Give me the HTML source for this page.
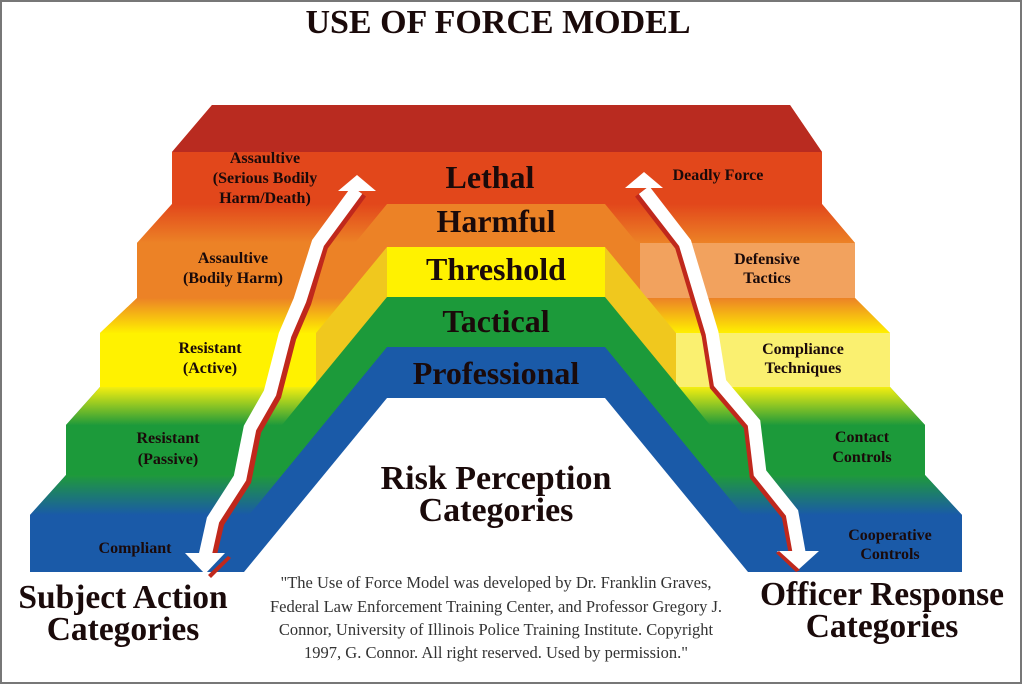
<!DOCTYPE html>
<html><head><meta charset="utf-8"><style>
html,body{margin:0;padding:0;background:#fff}
svg{display:block}
text{font-family:"Liberation Serif",serif;font-weight:bold;text-anchor:middle;fill:#1a0a0a}
.q{font-weight:normal;fill:#333;font-size:16.5px}
</style></head><body>
<svg width="1024" height="685" viewBox="0 0 1024 685" xmlns="http://www.w3.org/2000/svg">
<defs>
<linearGradient id="gRO" x1="0" y1="0" x2="0" y2="1"><stop offset="0" stop-color="#e2471b"/><stop offset="1" stop-color="#ec8226"/></linearGradient>
<linearGradient id="gOY" x1="0" y1="0" x2="0" y2="1"><stop offset="0" stop-color="#ec8226"/><stop offset="1" stop-color="#fff000"/></linearGradient>
<linearGradient id="gYG" x1="0" y1="0" x2="0" y2="1"><stop offset="0" stop-color="#f4ee10"/><stop offset="1" stop-color="#1f9a3a"/></linearGradient>
<linearGradient id="gGB" x1="0" y1="0" x2="0" y2="1"><stop offset="0" stop-color="#1f9a3a"/><stop offset="1" stop-color="#1a5aa8"/></linearGradient>
</defs>
<rect width="1024" height="685" fill="#fff"/>
<polygon points="212,105 790,105 822,152 822,572 172,572 172,152" fill="#e2471b"/>
<polygon points="212,105 790,105 822,152 172,152" fill="#b92b20"/>
<polygon points="137,572 137,243 172,204 822,204 855,243 855,572" fill="#ec8226"/>
<polygon points="137,243 172,204 387,204 355,243" fill="url(#gRO)"/>
<polygon points="605,204 822,204 855,243 637,243" fill="url(#gRO)"/>
<polygon points="640,243 855,243 855,298 640,298" fill="#f2a25e"/>
<polygon points="100,572 100,333 137,298 345,298 387,247 605,247 647,298 855,298 890,333 890,572" fill="#f0c81e"/>
<polygon points="100,333 137,298 345,298 316,333" fill="url(#gOY)"/>
<polygon points="647,298 855,298 890,333 676,333" fill="url(#gOY)"/>
<rect x="100" y="333" width="216" height="54" fill="#fff200"/>
<rect x="676" y="333" width="214" height="54" fill="#faf070"/>
<rect x="387" y="247" width="218" height="50" fill="#fff200"/>
<polygon points="66,572 66,425 100,387 313,387 387,297 605,297 679,387 890,387 925,425 925,572" fill="#1c9a3a"/>
<polygon points="66,425 100,387 313,387 282,425" fill="url(#gYG)"/>
<polygon points="679,387 890,387 925,425 710,425" fill="url(#gYG)"/>
<polygon points="30,572 30,515 66,475 282,475 387,347 605,347 710,475 925,475 962,515 962,572" fill="#1a5aa8"/>
<polygon points="30,515 66,475 282,475 249,515" fill="url(#gGB)"/>
<polygon points="710,475 925,475 962,515 743,515" fill="url(#gGB)"/>
<polygon points="387,398 605,398 748,572 244,572" fill="#fff"/>
<g fill="none" stroke-linejoin="miter" stroke-linecap="butt">
<polyline points="360,192 321,245 304,302 289,337 274,395 254,430 244,480 217,522 209,556" stroke="#c0281c" stroke-width="15"/>
<polyline points="357,190 318,243 300,300 285,335 270,393 250,428 240,478 213,520 205,556" stroke="#fff" stroke-width="13"/>
<polyline points="641,192 682,245 709,335 717,385 751,425 757,475 789,515 796,552" stroke="#c0281c" stroke-width="15"/>
<polyline points="644,190 685,243 712,333 720,383 754,423 760,473 792,513 799,552" stroke="#fff" stroke-width="13"/>
</g>
<polygon points="357,175 376,191 338,191" fill="#fff"/>
<polygon points="644,172 663,188 625,188" fill="#fff"/>
<polygon points="185,553 225,553 205,574" fill="#fff"/>
<polygon points="208,575 228,556 231,558 211,578" fill="#c0281c"/>
<polygon points="777,551 819,551 798,570" fill="#fff"/>
<polygon points="776,553 779,551 800,570 796,572" fill="#c0281c"/>
<text x="498" y="33" style="font-size:34px">USE OF FORCE MODEL</text>
<g style="font-size:32px">
<text x="490" y="188">Lethal</text>
<text x="496" y="232">Harmful</text>
<text x="496" y="280">Threshold</text>
<text x="496" y="332">Tactical</text>
<text x="496" y="384">Professional</text>
</g>
<g style="font-size:34px">
<text x="496" y="489">Risk Perception</text>
<text x="496" y="521">Categories</text>
</g>
<g style="font-size:16px">
<text x="265" y="163">Assaultive</text>
<text x="265" y="183">(Serious Bodily</text>
<text x="265" y="203">Harm/Death)</text>
<text x="233" y="263">Assaultive</text>
<text x="233" y="283">(Bodily Harm)</text>
<text x="210" y="353">Resistant</text>
<text x="210" y="373">(Active)</text>
<text x="168" y="443">Resistant</text>
<text x="168" y="464">(Passive)</text>
<text x="135" y="553" fill="#0a1a40">Compliant</text>
<text x="718" y="180">Deadly Force</text>
<text x="767" y="264">Defensive</text>
<text x="767" y="283">Tactics</text>
<text x="803" y="354">Compliance</text>
<text x="803" y="373">Techniques</text>
<text x="862" y="442">Contact</text>
<text x="862" y="462">Controls</text>
<text x="890" y="540" fill="#0a1a40">Cooperative</text>
<text x="890" y="559" fill="#0a1a40">Controls</text>
</g>
<g style="font-size:33.5px">
<text x="123" y="608">Subject Action</text>
<text x="123" y="640">Categories</text>
<text x="882" y="605">Officer Response</text>
<text x="882" y="637">Categories</text>
</g>
<text class="q" x="496" y="588">"The Use of Force Model was developed by Dr. Franklin Graves,</text>
<text class="q" x="496" y="612">Federal Law Enforcement Training Center, and Professor Gregory J.</text>
<text class="q" x="496" y="635">Connor, University of Illinois Police Training Institute. Copyright</text>
<text class="q" x="496" y="658">1997, G. Connor. All right  reserved. Used by permission."</text>
<rect x="1" y="1" width="1020" height="682" fill="none" stroke="#777" stroke-width="2"/>
</svg>
</body></html>
